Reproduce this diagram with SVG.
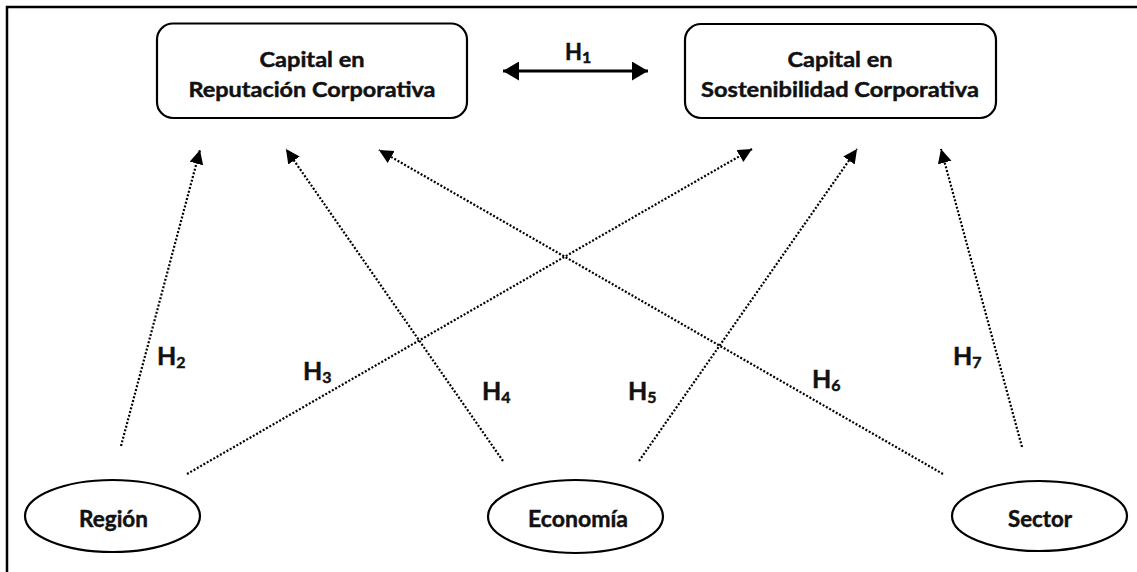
<svg xmlns="http://www.w3.org/2000/svg" width="1137" height="572" viewBox="0 0 1137 572">
  <style>
    .frame { fill: none; stroke: #000; stroke-width: 2.5; }
    .box { fill: #fff; stroke: #000; stroke-width: 2.2; }
    .oval { fill: #fff; stroke: #000; stroke-width: 2.2; }
    .lbl { font-family: Lato, "Open Sans", sans-serif; font-weight: bold; fill: #111; stroke: #111; stroke-width: 0.45; }
    .boxtxt { font-size: 20px; text-anchor: middle; }
    .ovaltxt { font-size: 22px; text-anchor: middle; }
    .hyp { font-size: 25px; }
    .sub { font-size: 16px; }
    .dotted { fill: none; stroke: #000; stroke-width: 2.2; stroke-dasharray: 2 1.8; marker-end: url(#tri); }
    .solid { fill: none; stroke: #000; stroke-width: 3; marker-start: url(#bigL); marker-end: url(#bigR); }
  </style>
  <defs>
    <marker id="tri" markerUnits="userSpaceOnUse" markerWidth="15" markerHeight="15" refX="14" refY="7" orient="auto">
      <path d="M0,0 L14,7 L0,14 z" fill="#000"/>
    </marker>
    <marker id="bigR" markerUnits="userSpaceOnUse" markerWidth="18" markerHeight="20" refX="16" refY="9.5" orient="auto">
      <path d="M0,0 L16,9.5 L0,19 z" fill="#000"/>
    </marker>
    <marker id="bigL" markerUnits="userSpaceOnUse" markerWidth="18" markerHeight="20" refX="0" refY="9.5" orient="auto">
      <path d="M16,0 L0,9.5 L16,19 z" fill="#000"/>
    </marker>
  </defs>

  <rect width="1137" height="572" fill="#fff"/>
  <!-- outer frame (runs past the right and bottom edges) -->
  <rect class="frame" x="7" y="7" width="1200" height="700"/>

  <!-- connectors -->
  <g id="connectors">
    <line class="solid" x1="503" y1="71" x2="648" y2="71"/>
    <line class="dotted" x1="121" y1="446" x2="200" y2="150"/>
    <line class="dotted" x1="187" y1="474" x2="752" y2="149"/>
    <line class="dotted" x1="503" y1="461" x2="286" y2="149"/>
    <line class="dotted" x1="639" y1="461" x2="857" y2="149"/>
    <line class="dotted" x1="943" y1="474" x2="379" y2="150"/>
    <line class="dotted" x1="1022" y1="447" x2="941" y2="149"/>
  </g>

  <!-- hypothesis labels -->
  <g id="labels" class="lbl">
    <text x="565" y="60" class="hyp" style="font-size:22px">H<tspan class="sub" dy="3">1</tspan></text>
    <text x="157" y="365" class="hyp">H<tspan class="sub" dy="3">2</tspan></text>
    <text x="303" y="380" class="hyp">H<tspan class="sub" dy="3">3</tspan></text>
    <text x="482" y="400" class="hyp">H<tspan class="sub" dy="3">4</tspan></text>
    <text x="628" y="400" class="hyp">H<tspan class="sub" dy="3">5</tspan></text>
    <text x="812" y="388" class="hyp">H<tspan class="sub" dy="3">6</tspan></text>
    <text x="953" y="365" class="hyp">H<tspan class="sub" dy="3">7</tspan></text>
  </g>

  <g id="reputacion">
    <rect class="box" x="157" y="23.5" width="310" height="94.5" rx="16"/>
    <text class="lbl boxtxt" x="312" y="67" textLength="105" lengthAdjust="spacingAndGlyphs">Capital en</text>
    <text class="lbl boxtxt" x="312" y="97" textLength="247" lengthAdjust="spacingAndGlyphs">Reputación Corporativa</text>
  </g>

  <g id="sostenibilidad">
    <rect class="box" x="685" y="24" width="311" height="94" rx="16"/>
    <text class="lbl boxtxt" x="840" y="67" textLength="105" lengthAdjust="spacingAndGlyphs">Capital en</text>
    <text class="lbl boxtxt" x="840" y="97" textLength="278" lengthAdjust="spacingAndGlyphs">Sostenibilidad Corporativa</text>
  </g>

  <g id="region">
    <ellipse class="oval" cx="112.5" cy="516" rx="87.5" ry="36"/>
    <text class="lbl ovaltxt" x="113.5" y="527" textLength="69" lengthAdjust="spacingAndGlyphs">Región</text>
  </g>

  <g id="economia">
    <ellipse class="oval" cx="575.5" cy="516.5" rx="87.5" ry="36.5"/>
    <text class="lbl ovaltxt" x="578" y="527" textLength="100" lengthAdjust="spacingAndGlyphs">Economía</text>
  </g>

  <g id="sector">
    <ellipse class="oval" cx="1039.5" cy="516" rx="87.5" ry="35"/>
    <text class="lbl ovaltxt" x="1040" y="527" textLength="64" lengthAdjust="spacingAndGlyphs">Sector</text>
  </g>
</svg>
